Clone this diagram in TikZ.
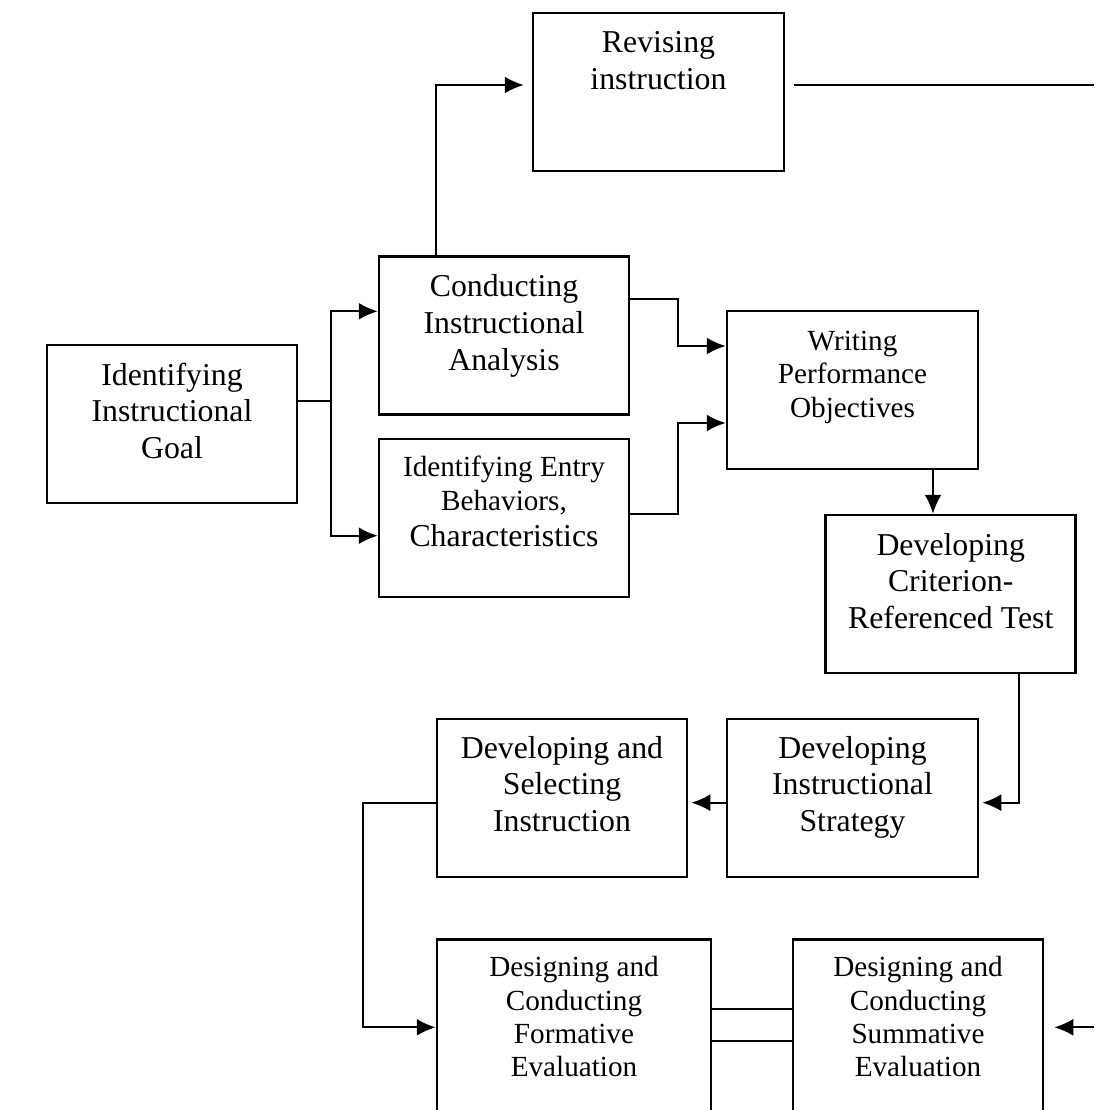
\documentclass[tikz,border=0pt]{standalone}
\usepackage{fontspec}
\setmainfont{Liberation Serif}
\usetikzlibrary{arrows.meta}
\newcommand\fsbig{\fontsize{31.8}{36.7}\selectfont}
\newcommand\fssmall{\fontsize{29.2}{33.4}\selectfont}
\tikzset{
  stepbox/.style={draw, line width=2.5pt, minimum width=250pt, minimum height=158pt, inner sep=0pt},
  lbl/.style={anchor=base, inner sep=0pt},
  conn/.style={line width=2.2pt},
  arr/.style={conn, -{Latex[length=19pt,width=17pt]}},
}
\begin{document}
\begin{tikzpicture}[x=1pt,y=-1pt]
\useasboundingbox (0,0) rectangle (1094,1110);
\fill[white] (0,0) rectangle (1094,1110);
\clip (0,0) rectangle (1094,1110);

% boxes
\node[stepbox, minimum width=251pt] (rev) at (658.5,91.9) {};
\node[stepbox] (cond) at (504,335.5) {};
\node[stepbox] (goal) at (172,424) {};
\node[stepbox] (entry) at (504,517.9) {};
\node[stepbox, minimum width=251pt] (write) at (852.5,389.9) {};
\node[stepbox] (crit) at (950.7,594) {};
\node[stepbox] (sel) at (562,797.9) {};
\node[stepbox, minimum width=251pt] (strat) at (852.5,797.9) {};
\node[stepbox, minimum width=274pt, minimum height=220pt] (form) at (574,1049.3) {};
\node[stepbox, minimum height=220pt] (summ) at (918,1049.3) {};

% texts
\node[lbl] (trev) at (658.5,52.7) {\fsbig\begin{tabular}[t]{@{}c@{}}Revising\\instruction\end{tabular}};
\node[lbl] (tcond) at (504,296.7) {\fsbig\begin{tabular}[t]{@{}c@{}}Conducting\\Instructional\\Analysis\end{tabular}};
\node[lbl] (tgoal) at (172,385) {\fsbig\begin{tabular}[t]{@{}c@{}}Identifying\\Instructional\\Goal\end{tabular}};
\node[lbl] (tentry) at (504,476.7) {\fssmall\begin{tabular}[t]{@{}c@{}}Identifying Entry\\Behaviors,\\[3.3pt]{\fsbig Characteristics}\end{tabular}};
\node[lbl] (twrite) at (852.5,350.5) {\fssmall\begin{tabular}[t]{@{}c@{}}Writing\\Performance\\Objectives\end{tabular}};
\node[lbl] (tcrit) at (950.7,555) {\fsbig\begin{tabular}[t]{@{}c@{}}Developing\\Criterion-\\Referenced Test\end{tabular}};
\node[lbl] (tsel) at (562,758) {\fsbig\begin{tabular}[t]{@{}c@{}}Developing and\\Selecting\\Instruction\end{tabular}};
\node[lbl] (tstrat) at (852.5,758) {\fsbig\begin{tabular}[t]{@{}c@{}}Developing\\Instructional\\Strategy\end{tabular}};
\node[lbl] (tform) at (574,976.7) {\fssmall\begin{tabular}[t]{@{}c@{}}Designing and\\Conducting\\Formative\\Evaluation\end{tabular}};
\node[lbl] (tsumm) at (918,976.7) {\fssmall\begin{tabular}[t]{@{}c@{}}Designing and\\Conducting\\Summative\\Evaluation\end{tabular}};

% junction coordinates
\coordinate (jg) at (331,400.7);
\coordinate (jr) at (435.8,85);
\coordinate (edgeA) at (1094,85);
\coordinate (jw1) at (678,299);
\coordinate (jw2) at (678,514);
\coordinate (jc) at (1018.8,802.7);
\coordinate (js) at (363,802.7);
\coordinate (edgeB) at (1094,1027.3);

% connectors
\draw[conn] (goal.east |- jg) -- (jg);
\draw[arr] (jg) |- (cond.west |- 0,311.3);
\draw[arr] (jg) |- (entry.west |- 0,535.7);
\draw[arr, shorten >=8pt] (cond.north -| jr) -- (jr) -- (rev.west |- jr);
\draw[conn] ([xshift=9pt]rev.east |- edgeA) -- (edgeA);
\draw[arr] (cond.east |- jw1) -- (jw1) |- (write.west |- 0,346);
\draw[arr] (entry.east |- jw2) -- (jw2) |- (write.west |- 0,423);
\draw[arr] (write.south -| 933,0) -- (crit.north -| 933,0);
\draw[arr, shorten >=3pt] (crit.south -| jc) -- (jc) -- (strat.east |- jc);
\draw[arr, shorten >=3pt] (strat.west |- jc) -- (sel.east |- jc);
\draw[arr] (sel.west |- js) -- (js) |- (form.west |- edgeB);
\draw[conn] (form.east |- 0,1009.3) -- (summ.west |- 0,1009.3);
\draw[conn] ([xshift=-2pt]form.east |- 0,1041) -- (summ.west |- 0,1041);
\draw[arr, shorten >=10pt] (edgeB) -- (summ.east |- edgeB);
\end{tikzpicture}
\end{document}
